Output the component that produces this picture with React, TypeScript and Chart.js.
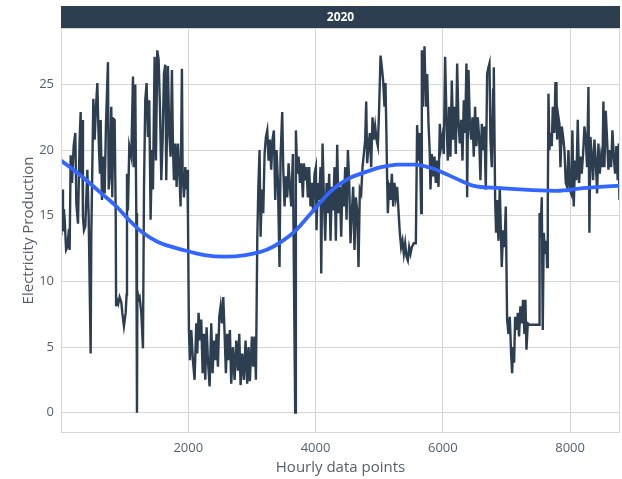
import React, { useEffect, useRef } from "react";
import { Chart, registerables } from "chart.js";

Chart.register(...registerables);

const panelTitle = "2020";
const xTitle = "Hourly data points";
const yTitle = "Electricity Production";
const xTickValues = [2000, 4000, 6000, 8000];
const yTickValues = [0, 5, 10, 15, 20, 25];

// hourly production (traced)
const hourX = [
  0, 5, 18, 31, 45, 58, 80, 99, 125, 136, 152, 173, 199, 225, 241, 267, 293, 309, 320, 330, 345, 361, 382, 414, 435, 466, 476,
  508, 529, 550, 571, 592, 612, 623, 644, 665, 686, 707, 738, 749, 770, 790, 806, 822, 843, 860, 866, 880, 900, 921, 948, 963,
  989, 1016, 1031, 1037, 1052, 1073, 1105, 1131, 1147, 1167, 1183, 1194, 1200, 1215, 1235, 1262, 1288, 1304, 1324, 1345, 1366,
  1387, 1408, 1429, 1445, 1471, 1492, 1513, 1534, 1555, 1576, 1597, 1618, 1639, 1654, 1680, 1701, 1722, 1743, 1759, 1775, 1796,
  1817, 1838, 1864, 1879, 1900, 1911, 1932, 1953, 1969, 1984, 1995, 2010, 2026, 2047, 2073, 2099, 2126, 2141, 2162, 2183, 2204,
  2225, 2246, 2267, 2288, 2309, 2335, 2361, 2382, 2403, 2424, 2445, 2466, 2487, 2508, 2529, 2550, 2571, 2591, 2612, 2633, 2654,
  2675, 2701, 2728, 2754, 2780, 2801, 2822, 2848, 2874, 2900, 2926, 2947, 2968, 3000, 3021, 3042, 3063, 3084, 3100, 3120, 3136,
  3157, 3178, 3199, 3220, 3241, 3262, 3282, 3303, 3324, 3345, 3366, 3387, 3408, 3434, 3450, 3476, 3492, 3513, 3534, 3555, 3576,
  3597, 3618, 3644, 3659, 3680, 3691, 3712, 3733, 3754, 3775, 3801, 3817, 3838, 3858, 3879, 3900, 3921, 3942, 3963, 3984, 4005,
  4015, 4036, 4057, 4078, 4089, 4110, 4131, 4152, 4173, 4194, 4214, 4235, 4256, 4277, 4298, 4319, 4340, 4361, 4382, 4403, 4424,
  4445, 4466, 4487, 4508, 4529, 4549, 4570, 4591, 4612, 4633, 4654, 4675, 4696, 4717, 4738, 4759, 4780, 4796, 4811, 4832, 4853,
  4874, 4895, 4916, 4937, 4958, 4979, 5000, 5021, 5042, 5062, 5083, 5099, 5115, 5125, 5136, 5157, 5178, 5199, 5220, 5240, 5261,
  5282, 5303, 5324, 5345, 5366, 5387, 5408, 5429, 5450, 5471, 5492, 5513, 5544, 5576, 5596, 5617, 5638, 5659, 5670, 5685, 5691,
  5712, 5733, 5754, 5775, 5795, 5806, 5827, 5848, 5869, 5890, 5911, 5932, 5953, 5973, 5994, 6015, 6036, 6057, 6078, 6099, 6120,
  6141, 6162, 6183, 6204, 6225, 6246, 6267, 6288, 6309, 6329, 6350, 6371, 6382, 6403, 6424, 6445, 6466, 6486, 6507, 6528, 6549,
  6570, 6591, 6612, 6633, 6654, 6675, 6696, 6717, 6733, 6748, 6769, 6790, 6801, 6822, 6837, 6853, 6874, 6895, 6905, 6926, 6947,
  6968, 6989, 7010, 7031, 7052, 7073, 7089, 7104, 7120, 7136, 7157, 7178, 7198, 7219, 7240, 7261, 7282, 7298, 7314, 7335, 7361,
  7413, 7492, 7513, 7520, 7534, 7555, 7570, 7586, 7607, 7628, 7638, 7649, 7660, 7675, 7691, 7712, 7728, 7743, 7754, 7769, 7785,
  7796, 7817, 7832, 7848, 7869, 7890, 7911, 7932, 7953, 7974, 7995, 8016, 8036, 8057, 8078, 8099, 8120, 8141, 8162, 8183, 8204,
  8225, 8246, 8267, 8288, 8303, 8319, 8340, 8361, 8382, 8403, 8424, 8445, 8466, 8487, 8508, 8523, 8539, 8560, 8581, 8602, 8623,
  8644, 8665, 8686, 8707, 8727, 8748, 8764, 8775, 8784,
];
const production = [
  13.6, 15.2, 17.0, 13.8, 15.5, 14.7, 12.4, 12.6, 14.0, 12.4, 19.6, 17.5, 20.3, 21.3, 15.9, 14.4, 20.8, 22.9, 18.0, 22.3, 14.9,
  13.9, 14.2, 18.5, 14.9, 4.5, 13.4, 23.9, 20.8, 23.3, 25.1, 20.8, 18.2, 22.3, 16.2, 19.5, 16.7, 22.0, 26.7, 17.0, 18.2, 23.3,
  16.4, 22.4, 22.3, 14.9, 8.1, 8.6, 8.3, 8.8, 8.4, 7.6, 6.6, 7.6, 9.0, 18.2, 15.4, 20.3, 19.5, 25.6, 18.7, 25.0, 15.2, 0, 9.3,
  8.6, 8.8, 7.6, 4.9, 17.0, 23.8, 25.1, 21.0, 23.8, 14.7, 20.0, 17.0, 27.1, 19.2, 27.6, 26.9, 23.3, 17.7, 20.8, 25.8, 26.5, 17.7,
  26.4, 21.3, 19.5, 26.1, 20.3, 17.7, 20.5, 17.2, 20.5, 17.7, 15.7, 26.2, 18.2, 16.4, 18.7, 17.0, 18.5, 14.9, 6.3, 4.0, 6.3, 4.0,
  2.5, 6.8, 4.5, 7.6, 5.5, 7.1, 3.0, 6.0, 2.5, 6.5, 4.0, 2.0, 6.8, 3.0, 5.5, 4.0, 6.0, 3.5, 7.3, 8.1, 6.8, 8.8, 6.0, 3.0, 6.0,
  4.0, 6.3, 2.2, 5.0, 2.5, 5.5, 3.2, 6.0, 2.1, 4.5, 2.5, 5.5, 2.2, 5.0, 2.4, 5.8, 3.5, 5.8, 2.5, 13.1, 17.0, 20.0, 13.4, 17.0,
  15.2, 19.7, 21.0, 21.5, 19.2, 20.8, 18.5, 20.8, 21.5, 16.2, 20.0, 17.7, 11.1, 19.5, 22.9, 18.7, 15.7, 18.0, 16.4, 19.0, 17.2,
  15.7, 19.7, 11.1, 0, 21.5, 18.2, 19.5, 17.5, 19.0, 16.4, 19.0, 17.7, 18.7, 16.4, 18.7, 15.7, 17.5, 15.2, 18.2, 18.7, 13.9,
  17.5, 16.2, 18.7, 10.6, 20.5, 16.4, 13.1, 17.5, 15.2, 18.2, 13.1, 17.2, 15.4, 18.7, 13.1, 20.4, 15.2, 17.2, 13.4, 17.5, 15.7,
  18.7, 14.7, 20.0, 17.5, 12.9, 15.2, 17.2, 12.4, 16.4, 15.4, 11.1, 17.0, 16.7, 18.7, 19.7, 20.8, 23.7, 19.0, 20.3, 21.3, 18.7,
  22.5, 20.8, 21.8, 20.8, 20.3, 23.3, 27.2, 26.3, 25.3, 23.3, 25.1, 20.8, 17.7, 15.2, 17.5, 16.2, 18.2, 15.7, 17.5, 16.4, 17.2,
  15.4, 13.7, 12.6, 13.1, 12.1, 12.9, 11.9, 11.6, 12.6, 12.1, 12.6, 12.9, 12.9, 21.9, 19.2, 21.3, 15.2, 27.6, 23.3, 25.1, 27.9,
  23.3, 25.8, 22.0, 19.7, 17.0, 19.7, 18.0, 19.5, 17.5, 19.2, 17.2, 22.0, 20.3, 21.0, 19.7, 27.1, 22.5, 19.2, 23.3, 19.5, 25.3,
  20.8, 23.3, 19.7, 26.6, 22.0, 20.5, 22.3, 19.2, 23.8, 21.3, 26.6, 16.4, 26.1, 22.0, 20.8, 22.5, 19.5, 23.3, 20.3, 22.5, 21.0,
  17.7, 22.0, 20.0, 21.8, 17.0, 25.8, 26.3, 26.6, 20.8, 18.7, 24.6, 26.3, 16.2, 13.7, 16.2, 13.1, 17.2, 15.2, 11.1, 13.9, 12.6,
  15.7, 7.1, 6.0, 7.3, 4.5, 3.0, 5.0, 3.8, 7.3, 6.3, 7.6, 5.8, 8.1, 6.8, 8.6, 6.0, 8.6, 4.8, 6.8, 6.7, 6.7, 6.7, 6.7, 15.2, 13.4,
  16.4, 6.3, 13.7, 12.1, 13.1, 11.1, 15.7, 24.3, 20.0, 21.3, 20.3, 23.3, 22.5, 21.3, 25.1, 25.1, 20.8, 22.5, 22.0, 18.7, 21.8,
  21.0, 20.0, 17.5, 17.2, 20.0, 17.0, 16.7, 21.5, 15.7, 19.2, 17.7, 22.3, 17.5, 19.5, 18.2, 19.7, 21.8, 20.8, 18.7, 24.8, 13.7,
  21.0, 19.7, 17.7, 20.8, 19.2, 16.7, 20.5, 18.2, 19.5, 18.7, 23.7, 18.7, 23.0, 20.8, 18.5, 20.0, 18.7, 21.5, 19.5, 18.2, 20.3,
  17.7, 20.5, 16.2, 17.0,
];

// smoothed trend (traced)
const trendX = [0, 300, 612, 850, 1084, 1262, 1523, 1916, 2257, 2571, 2900, 3231, 3487, 3702, 3911, 4246, 4508, 4769, 5031, 5293, 5554, 5843, 6267, 6471, 6895, 7413, 7786, 8199, 8784];
const trendY = [19.2, 18.1, 16.8, 15.8, 14.6, 13.8, 13.0, 12.4, 12.0, 11.88, 12.0, 12.4, 13.1, 13.95, 15.1, 16.9, 17.8, 18.3, 18.7, 18.9, 18.9, 18.6, 17.7, 17.3, 17.1, 16.95, 16.9, 17.1, 17.3];

const FONT = "'Open Sans', 'DejaVu Sans', sans-serif";
const TEXT_COLOR = "#56606c";
const GRID = "#d6d6d6";

export default function App() {
  const ref = useRef<HTMLCanvasElement | null>(null);

  useEffect(() => {
    if (!ref.current) return;
    const mainData = hourX.map((x, i) => ({ x, y: production[i] }));
    const trendData = trendX.map((x, i) => ({ x, y: trendY[i] }));

    const decor = {
      id: "decor",
      afterDraw(chart: any) {
        const { ctx, chartArea } = chart;
        const { left, right, top, bottom } = chartArea;
        ctx.save();
        ctx.strokeStyle = GRID;
        ctx.lineWidth = 1;
        ctx.strokeRect(left + 0.5, top + 0.5, right - left - 1, bottom - top - 1);
        ctx.fillStyle = "#2c3e50";
        ctx.fillRect(left, 6, right - left, top - 6);
        ctx.fillStyle = "#ffffff";
        ctx.font = `bold 12px ${FONT}`;
        ctx.textAlign = "center";
        ctx.textBaseline = "middle";
        ctx.fillText(panelTitle, (left + right) / 2, (6 + top) / 2 + 0.5);
        ctx.restore();
      },
    };

    const chart = new Chart(ref.current, {
      type: "line",
      data: {
        datasets: [
          {
            data: trendData,
            borderColor: "#3366ff",
            borderWidth: 3.8,
            pointRadius: 0,
            cubicInterpolationMode: "monotone",
            order: 0,
          },
          {
            data: mainData,
            borderColor: "#2c3e50",
            borderWidth: 2.4,
            pointRadius: 0,
            tension: 0,
            order: 1,
          },
        ],
      },
      options: {
        animation: false,
        responsive: false,
        maintainAspectRatio: false,
        layout: { padding: { left: 0, right: 2, top: 28, bottom: 0 } },
        plugins: { legend: { display: false }, tooltip: { enabled: false } },
        scales: {
          x: {
            type: "linear",
            min: 0,
            max: 8784,
            afterBuildTicks: (s: any) => {
              s.ticks = xTickValues.map((v) => ({ value: v }));
            },
            afterFit: (s: any) => {
              s.height = 46;
            },
            grid: { color: GRID, drawTicks: false },
            border: { display: false },
            ticks: {
              padding: 7,
              color: TEXT_COLOR,
              font: { family: FONT, size: 13 },
              callback: (v: any) => String(v),
            },
            title: {
              display: true,
              text: xTitle,
              color: TEXT_COLOR,
              font: { family: FONT, size: 15 },
              padding: { top: 0, bottom: 2 },
            },
          },
          y: {
            type: "linear",
            min: -1.55,
            max: 29.3,
            afterBuildTicks: (s: any) => {
              s.ticks = yTickValues.map((v) => ({ value: v }));
            },
            afterFit: (s: any) => {
              s.width = 61;
            },
            grid: { color: GRID, drawTicks: false },
            border: { display: false },
            ticks: {
              padding: 7,
              color: TEXT_COLOR,
              font: { family: FONT, size: 13 },
              callback: (v: any) => String(v),
            },
            title: {
              display: true,
              text: yTitle,
              color: TEXT_COLOR,
              font: { family: FONT, size: 15 },
              padding: { top: 20, bottom: 0 },
            },
          },
        },
      },
      plugins: [decor],
    });
    return () => chart.destroy();
  }, []);

  return (
    <div style={{ position: "absolute", left: 0, top: 0, width: 622, height: 479, background: "#ffffff" }}>
      <canvas ref={ref} width={622} height={479} style={{ width: 622, height: 479, display: "block" }} />
    </div>
  );
}
